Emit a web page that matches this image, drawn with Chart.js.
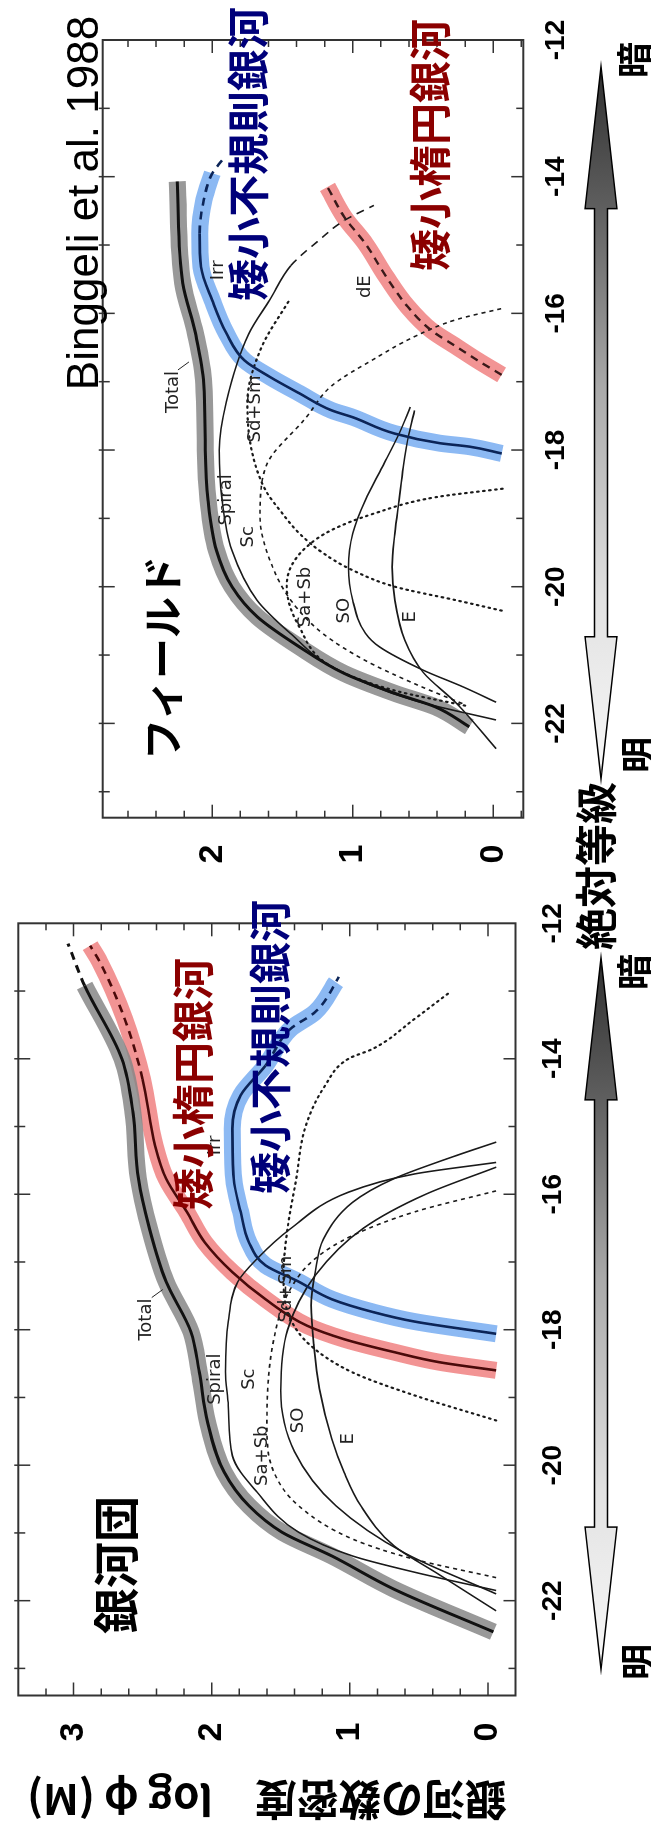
<!DOCTYPE html>
<html>
<head>
<meta charset="utf-8">
<script src="https://cdn.jsdelivr.net/npm/chart.js@4.4.1/dist/chart.umd.min.js"></script>
<style>
html, body { margin: 0; padding: 0; background: #fff; overflow: hidden; }
body { width: 651px; height: 1832px; position: relative; }
/* the figure is laid out flat and then turned a quarter turn */
#stage { position: absolute; left: 0; top: 0; width: 1832px; height: 651px;
  transform-origin: 0 0; transform: translateY(1832px) rotate(-90deg); }
#stage canvas { position: absolute; top: 0; }
.t { position: absolute; transform: translate(-50%, -50%); white-space: nowrap; line-height: 1;
  font-family: "Noto Sans CJK JP", sans-serif; font-weight: bold; color: #000; }
.red { color: #8b0000; }
.navy { color: #00007a; }
</style>
</head>
<body>
<div id="stage">
  <canvas id="cluster" width="940" height="651" style="left:0"></canvas>
  <canvas id="field" width="892" height="651" style="left:940px"></canvas>

  <div class="t" style="left:267px; top:113px; font-size:46px">銀河団</div>
  <div class="t red" style="left:748px; top:191px; font-size:42px">矮小楕円銀河</div>
  <div class="t navy" style="left:785px; top:268px; font-size:42px">矮小不規則銀河</div>
  <div class="t" style="left:170px; top:636px; font-size:36px">明</div>
  <div class="t" style="left:860px; top:632px; font-size:36px">暗</div>
  <div class="t" style="left:966px; top:594px; font-size:42px">絶対等級</div>

  <div class="t" style="left:1174px; top:160px; font-size:41px">フィールド</div>
  <div class="t" style="left:1629px; top:83px; font-size:44px; font-weight:normal; font-family:'Liberation Sans', Arial, sans-serif">Binggeli et al. 1988</div>
  <div class="t navy" style="left:1678px; top:246px; font-size:42px">矮小不規則銀河</div>
  <div class="t red" style="left:1687px; top:428px; font-size:42px">矮小楕円銀河</div>
  <div class="t" style="left:1077px; top:636px; font-size:36px">明</div>
  <div class="t" style="left:1772px; top:632px; font-size:36px">暗</div>
</div>

<script>
// tick labels
const magTicks = [-22, -20, -18, -16, -14, -12];
const phiTicksCluster = [0, 1, 2, 3];
const phiTicksField = [0, 1, 2];

// ---- 銀河団 (cluster) : absolute magnitude vs log phi ----
const clTotalMag = [-22.46, -21.83, -21.34, -20.99, -20.60, -20.10, -19.36, -18.62, -18.03, -17.29, -16.51, -15.77, -14.79, -14.00, -12.92, -12.30];
const clTotalPhi = [-0.04, 0.68, 1.13, 1.49, 1.73, 1.91, 2.03, 2.09, 2.15, 2.33, 2.45, 2.53, 2.57, 2.65, 2.92, 3.04];
const clDEMag = [-18.60, -18.48, -18.33, -18.14, -17.94, -17.55, -17.15, -16.71, -16.26, -15.77, -15.28, -14.30, -13.41, -12.57, -12.33];
const clDEPhi = [-0.06, 0.35, 0.68, 1.04, 1.31, 1.61, 1.85, 2.05, 2.18, 2.33, 2.41, 2.50, 2.63, 2.81, 2.88];
const clIrrMag = [-18.06, -17.88, -17.74, -17.55, -17.29, -17.05, -16.71, -16.26, -15.77, -15.03, -14.54, -14.10, -13.56, -13.31, -12.87, -12.79];
const clIrrPhi = [-0.06, 0.53, 0.83, 1.13, 1.37, 1.61, 1.73, 1.79, 1.84, 1.85, 1.79, 1.61, 1.43, 1.25, 1.10, 1.08];
const clSpiralMag = [-21.85, -21.58, -21.34, -20.99, -20.40, -19.86, -19.12, -18.62, -17.88, -17.29, -16.95, -16.51, -15.97, -15.70, -15.53];
const clSpiralPhi = [-0.06, 0.53, 0.98, 1.37, 1.67, 1.85, 1.88, 1.90, 1.88, 1.81, 1.67, 1.43, 1.01, 0.53, -0.06];
const clEMag = [-22.15, -21.58, -21.19, -20.60, -20.11, -19.61, -18.87, -18.24, -17.64, -17.15, -16.66, -16.12, -15.77, -15.43, -15.23];
const clEPhi = [-0.06, 0.38, 0.68, 0.92, 1.04, 1.13, 1.22, 1.26, 1.28, 1.25, 1.19, 0.98, 0.68, 0.23, -0.06];
const clS0Mag = [-21.90, -21.30, -20.60, -19.80, -18.90, -18.00, -17.20, -16.50, -16.00, -15.60];
const clS0Phi = [-0.06, 0.60, 1.10, 1.40, 1.50, 1.45, 1.25, 0.90, 0.45, -0.06];
const clSabMag = [-21.66, -21.39, -21.09, -20.60, -20.10, -19.42, -18.14, -17.40, -16.95, -16.61, -16.26, -15.95];
const clSabPhi = [-0.06, 0.53, 0.98, 1.37, 1.55, 1.60, 1.55, 1.43, 1.25, 0.98, 0.53, -0.06];
const clSdmMag = [-19.34, -18.97, -18.63, -18.24, -17.84, -17.20, -16.50, -15.80, -15.00, -14.40, -14.00, -13.85, -13.41, -13.04];
const clSdmPhi = [-0.06, 0.53, 0.98, 1.28, 1.43, 1.48, 1.45, 1.39, 1.32, 1.18, 1.01, 0.83, 0.53, 0.29];

const clLabelText = ['Total', 'Spiral', 'Sc', 'Sa+Sb', 'SO', 'E', 'Sd+Sm', 'Irr'];
const clLabelMag = [-17.85, -18.73, -18.73, -19.86, -19.34, -19.61, -17.40, -15.28];
const clLabelPhi = [2.47, 1.97, 1.73, 1.63, 1.37, 1.01, 1.46, 1.97];

// ---- フィールド (field) ----
const fdTotalMag = [-22.05, -21.76, -21.56, -21.27, -20.88, -20.44, -20.00, -19.47, -18.73, -18.00, -17.03, -16.29, -15.56, -14.07];
const fdTotalPhi = [0.17, 0.41, 0.70, 1.06, 1.38, 1.68, 1.86, 1.97, 2.03, 2.05, 2.06, 2.12, 2.21, 2.25];
const fdIrrMag = [-18.05, -17.95, -17.90, -17.76, -17.52, -17.42, -17.17, -16.93, -16.69, -16.29, -15.81, -15.32, -14.83, -14.34, -13.95, -13.76];
const fdIrrPhi = [-0.06, 0.17, 0.38, 0.70, 1.00, 1.15, 1.38, 1.59, 1.77, 1.90, 2.00, 2.08, 2.09, 2.06, 2.00, 1.93];
const fdDEMag = [-16.90, -16.69, -16.49, -16.25, -15.90, -15.47, -14.98, -14.59, -14.15];
const fdDEPhi = [-0.06, 0.11, 0.26, 0.44, 0.61, 0.76, 0.91, 1.06, 1.18];
const fdSpiralMag = [-21.95, -21.66, -21.17, -20.69, -20.20, -19.47, -18.73, -18.00, -17.30, -16.30, -15.80, -15.30, -14.93, -14.64, -14.42];
const fdSpiralPhi = [-0.02, 0.57, 1.15, 1.44, 1.68, 1.86, 1.93, 1.95, 1.90, 1.74, 1.59, 1.44, 1.24, 1.06, 0.85];
const fdS0Mag = [-21.69, -21.47, -21.22, -20.88, -20.68, -20.20, -19.71, -19.22, -18.73, -18.25, -17.76, -17.37];
const fdS0Phi = [-0.02, 0.21, 0.50, 0.81, 0.91, 1.00, 1.03, 1.00, 0.91, 0.79, 0.67, 0.59];
const fdEMag = [-22.37, -21.71, -21.25, -20.78, -20.20, -19.71, -19.22, -18.73, -18.25, -17.76, -17.42];
const fdEPhi = [-0.02, 0.26, 0.50, 0.63, 0.70, 0.72, 0.70, 0.67, 0.64, 0.60, 0.56];
const fdSabMag = [-21.74, -21.52, -21.17, -20.59, -20.00, -19.71, -19.42, -19.17, -18.93, -18.69, -18.56];
const fdSabPhi = [0.20, 0.70, 1.15, 1.38, 1.47, 1.44, 1.33, 1.15, 0.85, 0.41, -0.09];
const fdScMag = [-21.71, -21.42, -21.08, -20.69, -20.20, -19.61, -18.98, -18.25, -17.52, -17.06, -16.67, -16.33, -16.09, -15.92];
const fdScPhi = [0.22, 0.56, 0.91, 1.21, 1.44, 1.59, 1.66, 1.62, 1.33, 1.15, 0.85, 0.55, 0.26, -0.08];
const fdSdmMag = [-20.35, -20.20, -20.00, -19.76, -19.51, -19.22, -18.93, -18.59, -18.00, -17.30, -16.50, -15.80];
const fdSdmPhi = [-0.06, 0.26, 0.70, 1.00, 1.21, 1.38, 1.50, 1.62, 1.72, 1.75, 1.65, 1.45];

const fdLabelText = ['Total', 'Spiral', 'Sc', 'Sd+Sm', 'Sa+Sb', 'SO', 'E', 'Irr', 'dE'];
const fdLabelMag = [-17.15, -18.73, -19.27, -17.40, -20.15, -20.35, -20.44, -15.37, -15.61];
const fdLabelPhi = [2.28, 1.90, 1.74, 1.69, 1.34, 1.06, 0.59, 1.96, 0.91];

const DASH = [8, 6], SHORT = [4, 4], DOT = [1.5, 4.5];

function curve(mag, phi, o = {}) {
    const ds = {
        data: mag.map((m, i) => ({ x: m, y: phi[i] })),
        borderColor: o.color || '#1a1a1a',
        borderWidth: o.width || 1.6,
        borderDash: o.dash || [],
        borderCapStyle: o.cap || 'butt',
        borderJoinStyle: 'round',
        pointRadius: 0,
        fill: false,
        cubicInterpolationMode: 'monotone',
        order: o.order || 2
    };
    if (o.dashAbove !== undefined) {
        ds.segment = { borderDash: c => c.p0.parsed.x >= o.dashAbove ? DASH : [] };
    }
    return ds;
}

// wide translucent highlight drawn under a curve
function band(mag, phi, upTo, color) {
    const m = [], p = [];
    mag.forEach((v, i) => { if (v <= upTo) { m.push(v); p.push(phi[i]); } });
    return curve(m, p, { color: color, width: 17, order: 3 });
}

const GRAY = 'rgba(135,135,135,0.85)', PINK = 'rgba(238,112,112,0.75)', SKY = 'rgba(95,158,238,0.72)';

const framePlugin = {
    id: 'frame',
    afterDatasetsDraw(chart) {
        const { ctx, chartArea: a, scales: { x, y } } = chart;
        ctx.save();
        ctx.strokeStyle = '#333';
        ctx.lineWidth = 2;
        ctx.strokeRect(a.left, a.top, a.right - a.left, a.bottom - a.top);
        ctx.lineWidth = 1.5;
        ctx.beginPath();
        for (let m = Math.ceil(x.min); m < x.max; m++) {
            const px = x.getPixelForValue(m);
            const len = m % 2 === 0 ? 12 : 7;
            ctx.moveTo(px, a.bottom); ctx.lineTo(px, a.bottom - len);
            ctx.moveTo(px, a.top - 4); ctx.lineTo(px, a.top + len);
        }
        for (let k = Math.ceil(y.min * 5 + 0.01); k < y.max * 5; k++) {
            const py = y.getPixelForValue(k / 5);
            const len = k % 5 === 0 ? 13 : 7;
            ctx.moveTo(a.left, py); ctx.lineTo(a.left + len, py);
            ctx.moveTo(a.right, py); ctx.lineTo(a.right - len, py);
        }
        ctx.stroke();
        ctx.restore();
    }
};

const curveLabels = {
    id: 'curveLabels',
    afterDatasetsDraw(chart, args, opts) {
        const { ctx, scales: { x, y } } = chart;
        ctx.save();
        ctx.fillStyle = '#222';
        ctx.strokeStyle = '#222';
        ctx.lineWidth = 1;
        ctx.font = '18px "DejaVu Sans", sans-serif';
        ctx.textAlign = 'center';
        ctx.textBaseline = 'middle';
        opts.text.forEach((t, i) => {
            const px = x.getPixelForValue(opts.mag[i]), py = y.getPixelForValue(opts.phi[i]);
            ctx.fillText(t, px, py);
            if (t === 'Total') {
                // short pointer from the label down to the curve
                const w = ctx.measureText(t).width / 2;
                ctx.beginPath();
                ctx.moveTo(px + w + 1, py + 5);
                ctx.lineTo(px + w + 9, py + 16);
                ctx.stroke();
            }
        });
        ctx.restore();
    }
};

// double arrow under the magnitude axis: light (bright) end to dark (faint) end
const arrowPlugin = {
    id: 'brightArrow',
    afterDraw(chart, args, opts) {
        const { ctx, scales: { x } } = chart;
        const xl = x.getPixelForValue(opts.light), xd = x.getPixelForValue(opts.dark);
        const c = opts.center, H = 142, hw = 16, sw = 6.5;
        const g = ctx.createLinearGradient(xl, 0, xd, 0);
        g.addColorStop(0, '#f8f8f8');
        g.addColorStop(0.25, '#e2e2e2');
        g.addColorStop(0.55, '#a9a9a9');
        g.addColorStop(0.8, '#5f5f5f');
        g.addColorStop(1, '#303030');
        ctx.save();
        ctx.beginPath();
        ctx.moveTo(xl, c);
        ctx.lineTo(xl + H, c - hw); ctx.lineTo(xl + H, c - sw);
        ctx.lineTo(xd - H, c - sw); ctx.lineTo(xd - H, c - hw);
        ctx.lineTo(xd, c);
        ctx.lineTo(xd - H, c + hw); ctx.lineTo(xd - H, c + sw);
        ctx.lineTo(xl + H, c + sw); ctx.lineTo(xl + H, c + hw);
        ctx.closePath();
        ctx.fillStyle = g;
        ctx.fill();
        ctx.strokeStyle = '#000';
        ctx.lineWidth = 1.5;
        ctx.stroke();
        ctx.restore();
    }
};

function panel(id, p) {
    return new Chart(document.getElementById(id), {
        type: 'line',
        data: { datasets: p.datasets },
        options: {
            responsive: false,
            animation: false,
            layout: { padding: p.padding },
            plugins: {
                legend: { display: false },
                tooltip: { enabled: false },
                curveLabels: p.labels,
                brightArrow: p.arrow
            },
            scales: {
                x: {
                    type: 'linear', min: p.xMin, max: -12,
                    grid: { display: false, drawTicks: false },
                    border: { display: false },
                    afterBuildTicks: s => { s.ticks = magTicks.map(v => ({ value: v })); },
                    afterFit: s => { s.height = p.xHeight; s.paddingLeft = 0; s.paddingRight = 0; },
                    ticks: {
                        autoSkip: false, maxRotation: 0, padding: p.xPad, color: '#000',
                        font: { family: '"Liberation Sans", Arial, sans-serif', size: 28, weight: 'bold', lineHeight: 1 },
                        callback: v => String(v)
                    }
                },
                y: {
                    type: 'linear', min: p.yMin, max: p.yMax,
                    grid: { display: false, drawTicks: false },
                    border: { display: false },
                    afterBuildTicks: s => { s.ticks = p.phiTicks.map(v => ({ value: v })); },
                    afterFit: s => { s.width = p.yWidth; s.paddingTop = 0; s.paddingBottom = 0; },
                    ticks: {
                        autoSkip: false, padding: 27, color: '#000',
                        font: { family: '"Liberation Sans", Arial, sans-serif', size: 34, weight: 'bold', lineHeight: 1 },
                        callback: v => String(v)
                    },
                    title: p.yTitle || { display: false }
                }
            }
        },
        plugins: [framePlugin, curveLabels, arrowPlugin]
    });
}

panel('cluster', {
    xMin: -23.4, yMin: -0.2, yMax: 3.4,
    padding: { top: 18.3, right: 31.3, left: 0, bottom: 0 },
    xHeight: 135.5, yWidth: 136.5, xPad: 24,
    phiTicks: phiTicksCluster,
    yTitle: {
        display: true, text: '銀河の数密度　log φ (M)', color: '#000',
        font: { family: '"Noto Sans CJK JP", sans-serif', size: 42, weight: 'bold', lineHeight: 1.2 },
        padding: { top: 7, bottom: 0 }
    },
    labels: { text: clLabelText, mag: clLabelMag, phi: clLabelPhi },
    arrow: { light: -23.01, dark: -12.51, center: 601 },
    datasets: [
        band(clTotalMag, clTotalPhi, -12.92, GRAY),
        band(clDEMag, clDEPhi, -12.3, PINK),
        band(clIrrMag, clIrrPhi, -12.87, SKY),
        curve(clTotalMag, clTotalPhi, { width: 3, dashAbove: -13.6, order: 1, color: '#111' }),
        curve(clDEMag, clDEPhi, { width: 2.6, dashAbove: -14.3, order: 1, color: '#4a0a0a' }),
        curve(clIrrMag, clIrrPhi, { width: 2.6, dashAbove: -14.1, order: 1, color: '#0c2558' }),
        curve(clSpiralMag, clSpiralPhi),
        curve(clEMag, clEPhi),
        curve(clS0Mag, clS0Phi),
        curve(clSabMag, clSabPhi, { dash: SHORT }),
        curve(clSdmMag, clSdmPhi, { dash: DOT, cap: 'round', width: 2.2 })
    ]
});

panel('field', {
    xMin: -23.38, yMin: -0.214, yMax: 2.78,
    padding: { top: 102.7, right: 40, left: 0, bottom: 0 },
    xHeight: 127.7, yWidth: 74.3, xPad: 19,
    phiTicks: phiTicksField,
    labels: { text: fdLabelText, mag: fdLabelMag, phi: fdLabelPhi },
    arrow: { light: -22.81, dark: -12.39, center: 601 },
    datasets: [
        band(fdTotalMag, fdTotalPhi, -14.07, GRAY),
        band(fdIrrMag, fdIrrPhi, -13.95, SKY),
        band(fdDEMag, fdDEPhi, -14.15, PINK),
        curve(fdTotalMag, fdTotalPhi, { width: 3, dashAbove: -15.5, order: 1, color: '#111' }),
        curve(fdIrrMag, fdIrrPhi, { width: 2.6, dashAbove: -15.0, order: 1, color: '#0c2558' }),
        curve(fdDEMag, fdDEPhi, { width: 2.4, dash: DASH, order: 1, color: '#3a1a1a' }),
        curve(fdSpiralMag, fdSpiralPhi, { dashAbove: -15.3 }),
        curve(fdS0Mag, fdS0Phi, { dashAbove: -17.6 }),
        curve(fdEMag, fdEPhi, { dashAbove: -17.6 }),
        curve(fdSabMag, fdSabPhi, { dash: DOT, cap: 'round', width: 2.2 }),
        curve(fdScMag, fdScPhi, { dash: SHORT }),
        curve(fdSdmMag, fdSdmPhi, { dash: DOT, cap: 'round', width: 2.2 })
    ]
});
</script>
</body>
</html>
